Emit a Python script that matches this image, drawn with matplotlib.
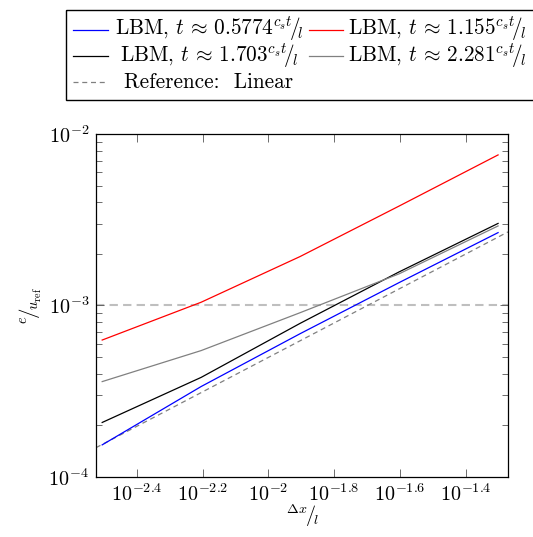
import matplotlib
matplotlib.use("Agg")
import matplotlib.pyplot as plt
from matplotlib.ticker import FixedLocator, FixedFormatter, LogLocator, NullLocator, NullFormatter
from matplotlib.patches import Rectangle

plt.rcParams["font.family"] = "serif"
plt.rcParams["font.serif"] = ["cmr10"]
plt.rcParams["mathtext.fontset"] = "cm"
plt.rcParams["axes.formatter.use_mathtext"] = True

# grid spacing dx/l
dx = [1/320, 1/160, 1/80, 1/40, 1/20]

err_t1 = [1.54e-4, 3.37e-4, 6.85e-4, 1.36e-3, 2.66e-3]
err_t2 = [6.29e-4, 1.045e-3, 1.93e-3, 3.80e-3, 7.55e-3]
err_t3 = [2.08e-4, 3.81e-4, 7.87e-4, 1.57e-3, 3.01e-3]
err_t4 = [3.60e-4, 5.46e-4, 9.08e-4, 1.53e-3, 2.91e-3]

ref_x = [10**-2.524, 10**-1.271]
ref_y = [10**-3.829, 10**-2.571]

hline_y = 1e-3

labels = [
    r"LBM, $t\,\approx\,0.5774{}^{c_s t}\!/\!_{l}$",
    r"LBM, $t\,\approx\,1.155{}^{c_s t}\!/\!_{l}$",
    r"LBM, $t\,\approx\,1.703{}^{c_s t}\!/\!_{l}$",
    r"LBM, $t\,\approx\,2.281{}^{c_s t}\!/\!_{l}$",
    "Reference:  Linear",
]
colors = ["#0000ff", "#ff0000", "#000000", "#808080"]

xticks = [10**-2.4, 10**-2.2, 10**-2, 10**-1.8, 10**-1.6, 10**-1.4]
xticklabels = [r"$10^{-2.4}$", r"$10^{-2.2}$", r"$10^{-2}$",
               r"$10^{-1.8}$", r"$10^{-1.6}$", r"$10^{-1.4}$"]

fig = plt.figure(figsize=(5.33, 5.37), dpi=100)
ax = fig.add_axes([0.1801, 0.1117, 0.7729, 0.6388])

ax.axhline(hline_y, color="#bfbfbf", lw=1.5, dashes=(4, 2.5), zorder=1)
ax.plot(ref_x, ref_y, color="#808080", lw=0.9, dashes=(4, 3), zorder=2)
series = [err_t1, err_t2, err_t3, err_t4]
for s, c in zip(series, colors):
    ax.plot(dx, s, color=c, lw=0.9, zorder=3)

ax.set_xscale("log")
ax.set_yscale("log")
ax.set_xlim(10**-2.524, 10**-1.271)
ax.set_ylim(1e-4, 1e-2)

ax.xaxis.set_major_locator(FixedLocator(xticks))
ax.xaxis.set_major_formatter(FixedFormatter(xticklabels))
ax.xaxis.set_minor_locator(NullLocator())
ax.yaxis.set_major_locator(LogLocator(base=10, numticks=10))
ax.yaxis.set_minor_locator(LogLocator(base=10, subs=range(2, 10), numticks=10))
ax.yaxis.set_minor_formatter(NullFormatter())

ax.tick_params(which="both", direction="in", top=True, right=True,
               labelsize=14.5, color="#555555", width=0.6)
ax.tick_params(which="major", length=6, pad=5)
ax.tick_params(which="minor", length=4.5)
for sp in ax.spines.values():
    sp.set_linewidth(0.9)

ax.set_xlabel(r"${}^{\Delta x}\!/\!_{l}$", fontsize=14.5, labelpad=-2)
ax.set_ylabel(r"${}^{e}\!/\!_{u_{\mathrm{ref}}}$", fontsize=15, labelpad=3)

# legend drawn above the axes in pixel coordinates
lax = fig.add_axes([0, 0, 1, 1])
lax.set_xlim(0, 533)
lax.set_ylim(537, 0)
lax.axis("off")
lax.add_patch(Rectangle((66, 10), 480, 90, fill=False, lw=1.0, ec="black"))
rows = [29.5, 56, 82]
cols = [(73, 108, 209), (309, 343, 437)]
for i, lab in enumerate(labels):
    r, c = divmod(i, 2)
    x0, x1, xc = cols[c]
    y = rows[r]
    if i < 4:
        lax.plot([x0, x1], [y, y], color=colors[i], lw=0.9)
    else:
        lax.plot([x0, x1], [y, y], color="#808080", lw=0.9, dashes=(4, 3))
    lax.text(xc, y + 5.7, lab, ha="center", va="baseline", fontsize=15.3)

fig.savefig("out.png", dpi=100)
